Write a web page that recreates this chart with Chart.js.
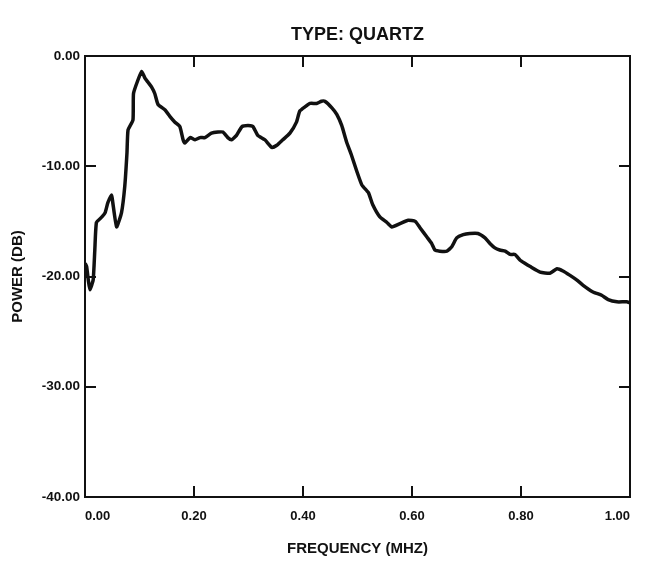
<!DOCTYPE html>
<html>
<head>
<meta charset="utf-8">
<script src="https://cdn.jsdelivr.net/npm/chart.js@4"></script>
<style>
  *{box-sizing:border-box;margin:0;padding:0}
  html,body{background:#fff}
  .wrap{width:645px;height:561px;position:relative}
</style>
</head>
<body>
<div class="wrap"><canvas id="spec"></canvas></div>
<script>
// power spectrum trace, frequency in MHz, power in dB
const freq = [
  0.000, 0.003, 0.006, 0.009, 0.015, 0.018, 0.021, 0.031, 0.037, 0.042, 0.049, 0.051,
  0.058, 0.067, 0.073, 0.077, 0.079, 0.088, 0.089, 0.097, 0.104, 0.110, 0.116, 0.122,
  0.128, 0.134, 0.147, 0.156, 0.165, 0.174, 0.180, 0.183, 0.193, 0.202, 0.211, 0.220,
  0.232, 0.244, 0.253, 0.262, 0.269, 0.278, 0.288, 0.299, 0.308, 0.317, 0.330, 0.343,
  0.352, 0.363, 0.376, 0.388, 0.394, 0.404, 0.413, 0.425, 0.434, 0.440, 0.453, 0.462,
  0.471, 0.480, 0.489, 0.499, 0.508, 0.520, 0.528, 0.541, 0.554, 0.563, 0.578, 0.593,
  0.606, 0.615, 0.627, 0.636, 0.642, 0.651, 0.664, 0.673, 0.682, 0.694, 0.706, 0.721,
  0.734, 0.743, 0.752, 0.761, 0.771, 0.780, 0.789, 0.798, 0.807, 0.817, 0.835, 0.853,
  0.866, 0.877, 0.890, 0.902, 0.914, 0.932, 0.948, 0.960, 0.976, 0.994, 1.000
];
const power = [
  -18.8, -19.1, -20.3, -21.2, -20.3, -17.6, -15.1, -14.6, -14.2, -13.3, -12.6, -13.3,
  -15.5, -14.2, -11.8, -8.8, -6.7, -5.8, -3.4, -2.2, -1.4, -2.0, -2.4, -2.8,
  -3.4, -4.4, -4.9, -5.5, -6.0, -6.4, -7.6, -7.9, -7.4, -7.6, -7.4, -7.4,
  -7.0, -6.9, -6.9, -7.4, -7.6, -7.2, -6.4, -6.3, -6.4, -7.2, -7.6, -8.3,
  -8.1, -7.6, -7.0, -6.0, -5.0, -4.6, -4.3, -4.3, -4.1, -4.1, -4.7, -5.3,
  -6.3, -7.8, -9.0, -10.5, -11.7, -12.4, -13.5, -14.6, -15.1, -15.5, -15.2, -14.9,
  -15.0, -15.6, -16.4, -17.0, -17.6, -17.7, -17.7, -17.3, -16.5, -16.2, -16.1, -16.1,
  -16.5, -17.0, -17.4, -17.6, -17.7, -18.0, -18.0, -18.5, -18.8, -19.1, -19.6, -19.7,
  -19.3, -19.5, -19.9, -20.3, -20.8, -21.4, -21.7, -22.1, -22.3, -22.3, -22.4
];
const xTicks = [0, 0.2, 0.4, 0.6, 0.8, 1.0];
const yTicks = [0, -10, -20, -30, -40];

const INK = "#111";
const FONT = "'Liberation Sans', Arial, sans-serif";

// closed frame plus short inward tick marks on all four sides
const frame = {
  id: "frame",
  afterDraw(chart) {
    const { ctx, chartArea: a, scales: { x, y } } = chart;
    const len = 11;
    ctx.save();
    ctx.strokeStyle = INK;
    ctx.lineWidth = 2;
    ctx.strokeRect(a.left, a.top, a.right - a.left, a.bottom - a.top);
    ctx.beginPath();
    xTicks.slice(1, -1).forEach(v => {
      const px = Math.round(x.getPixelForValue(v));
      ctx.moveTo(px, a.bottom); ctx.lineTo(px, a.bottom - len);
      ctx.moveTo(px, a.top); ctx.lineTo(px, a.top + len);
    });
    yTicks.slice(1, -1).forEach(v => {
      const py = Math.round(y.getPixelForValue(v));
      ctx.moveTo(a.left, py); ctx.lineTo(a.left + len, py);
      ctx.moveTo(a.right, py); ctx.lineTo(a.right - len, py);
    });
    ctx.stroke();
    ctx.restore();
  }
};

new Chart(document.getElementById("spec"), {
  type: "line",
  data: {
    datasets: [{
      data: freq.map((f, i) => ({ x: f, y: power[i] })),
      borderColor: INK,
      borderWidth: 3.5,
      pointRadius: 0,
      tension: 0.15,
      fill: false
    }]
  },
  options: {
    responsive: true,
    maintainAspectRatio: false,
    animation: false,
    layout: { padding: { left: 0, right: 15, top: 0, bottom: 0 } },
    plugins: {
      legend: { display: false },
      tooltip: { enabled: false },
      title: {
        display: true,
        text: "TYPE: QUARTZ",
        color: INK,
        fullSize: false,
        font: { family: FONT, size: 18, weight: "bold" },
        padding: { top: 24, bottom: 10.4 }
      }
    },
    scales: {
      x: {
        type: "linear",
        min: 0, max: 1,
        afterBuildTicks: s => { s.ticks = xTicks.map(v => ({ value: v })); },
        afterFit: s => { s.height = 64; },
        grid: { display: false, drawTicks: false },
        border: { display: false },
        ticks: {
          color: INK,
          align: "inner",
          padding: 12,
          maxRotation: 0,
          font: { family: FONT, size: 13, weight: "bold" },
          callback: v => v.toFixed(2)
        },
        title: {
          display: true,
          text: "FREQUENCY (MHZ)",
          color: INK,
          font: { family: FONT, size: 15, weight: "bold" },
          padding: { top: 0, bottom: 3 }
        }
      },
      y: {
        min: -40, max: 0,
        afterBuildTicks: s => { s.ticks = yTicks.map(v => ({ value: v })); },
        afterFit: s => { s.width = 85; },
        grid: { display: false, drawTicks: false },
        border: { display: false },
        ticks: {
          color: INK,
          padding: 5,
          font: { family: FONT, size: 13.5, weight: "bold" },
          callback: v => v.toFixed(2)
        },
        title: {
          display: true,
          text: "POWER (DB)",
          color: INK,
          font: { family: FONT, size: 15, weight: "bold" },
          padding: { top: 9, bottom: 0 }
        }
      }
    }
  },
  plugins: [frame]
});
</script>
</body>
</html>
